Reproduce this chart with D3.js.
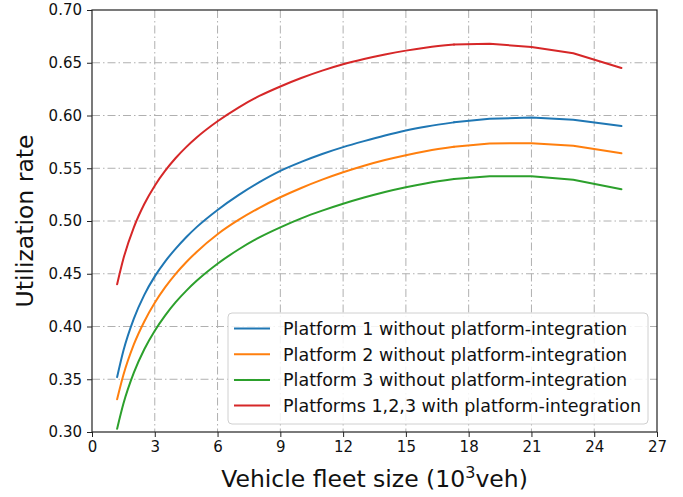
<!DOCTYPE html>
<html>
<head>
<meta charset="utf-8">
<script src="https://cdn.jsdelivr.net/npm/d3@7"></script>
<style>
  html, body { margin: 0; padding: 0; background: #fff; }
  svg { display: block; font-family: "DejaVu Sans", sans-serif; }
</style>
</head>
<body>
<svg id="chart" width="683" height="497"></svg>
<script>
// ---- data ----
const fleetSize = [1.2, 1.5, 2, 2.5, 3, 3.5, 4, 4.5, 5, 6, 7, 8, 9, 10, 11, 12, 13, 14, 15, 16, 17.3, 19, 21, 23, 25.3];
const platform1 = [0.352, 0.377, 0.4075, 0.430, 0.4475, 0.4618, 0.4738, 0.4846, 0.4942, 0.5105, 0.5245, 0.5368, 0.5475, 0.556, 0.5635, 0.570, 0.5757, 0.581, 0.5857, 0.5895, 0.5935, 0.597, 0.598, 0.596, 0.590];
const platform2 = [0.331, 0.354, 0.383, 0.4048, 0.4225, 0.4373, 0.4499, 0.4609, 0.4707, 0.4875, 0.501, 0.5125, 0.5225, 0.5313, 0.5392, 0.5462, 0.5524, 0.5578, 0.5624, 0.5663, 0.5703, 0.5735, 0.5737, 0.5714, 0.5642];
const platform3 = [0.303, 0.3267, 0.3562, 0.3784, 0.396, 0.4106, 0.4231, 0.4338, 0.4433, 0.4595, 0.473, 0.4845, 0.494, 0.5025, 0.5098, 0.5163, 0.5222, 0.5275, 0.532, 0.5358, 0.5398, 0.5425, 0.5425, 0.539, 0.530];
const integrated = [0.440, 0.4642, 0.494, 0.5161, 0.5335, 0.5477, 0.5597, 0.570, 0.5791, 0.5945, 0.6075, 0.6185, 0.6275, 0.6355, 0.6425, 0.6485, 0.6535, 0.6578, 0.6615, 0.6645, 0.6672, 0.668, 0.665, 0.659, 0.645];
const seriesLabels = [
  "Platform 1 without platform-integration",
  "Platform 2 without platform-integration",
  "Platform 3 without platform-integration",
  "Platforms 1,2,3 with platform-integration"
];
const xTicks = [0, 3, 6, 9, 12, 15, 18, 21, 24, 27];
const yTicks = [0.30, 0.35, 0.40, 0.45, 0.50, 0.55, 0.60, 0.65, 0.70];
const xLabel = "Vehicle fleet size (10";
const xLabelSup = "3";
const xLabelEnd = "veh)";
const yLabel = "Utilization rate";

// ---- styles ----
const seriesColors = ["#1f77b4", "#ff7f0e", "#2ca02c", "#d62728"];
const smoothUntil = 20; // index where the sampled curve becomes piecewise linear

const svg = d3.select("#chart");
const L = 92, R = 657, T = 10, B = 432;
const x = d3.scaleLinear().domain([0, 27]).range([L, R]);
const y = d3.scaleLinear().domain([0.3, 0.7]).range([B, T]);

// grid
const grid = svg.append("g");
grid.selectAll("line.gx").data(xTicks.slice(1, -1)).enter().append("line")
  .attr("x1", d => x(d)).attr("x2", d => x(d)).attr("y1", T).attr("y2", B)
  .attr("stroke", "#b0b0b0").attr("stroke-width", 1).attr("stroke-dasharray", "8,3,1.5,3");
grid.selectAll("line.gy").data(yTicks.slice(1, -1)).enter().append("line")
  .attr("y1", d => y(d)).attr("y2", d => y(d)).attr("x1", L).attr("x2", R)
  .attr("stroke", "#b0b0b0").attr("stroke-width", 1).attr("stroke-dasharray", "8,3,1.5,3");

// lines
const allSeries = [platform1, platform2, platform3, integrated];
const smoothLine = d3.line().x(d => x(d[0])).y(d => y(d[1])).curve(d3.curveMonotoneX);
const straightLine = d3.line().x(d => x(d[0])).y(d => y(d[1]));
allSeries.forEach((vals, i) => {
  const pts = fleetSize.map((f, j) => [f, vals[j]]);
  const g = svg.append("g").attr("fill", "none").attr("stroke", seriesColors[i])
    .attr("stroke-width", 2).attr("stroke-linejoin", "round").attr("stroke-linecap", "round");
  g.append("path").datum(pts.slice(0, smoothUntil + 1)).attr("d", smoothLine);
  g.append("path").datum(pts.slice(smoothUntil)).attr("d", straightLine);
});

// axes
const xAxis = svg.append("g").attr("transform", `translate(0,${B})`)
  .call(d3.axisBottom(x).tickValues(xTicks).tickFormat(d3.format("d")).tickSize(5).tickPadding(4).tickSizeOuter(0));
const yAxis = svg.append("g").attr("transform", `translate(${L},0)`)
  .call(d3.axisLeft(y).tickValues(yTicks).tickFormat(d3.format(".2f")).tickSize(5).tickPadding(5).tickSizeOuter(0));
[xAxis, yAxis].forEach(a => {
  a.select(".domain").remove();
  a.selectAll("line").attr("stroke", "#222").attr("stroke-width", 1);
  a.selectAll("text").attr("font-family", "DejaVu Sans").attr("font-size", 15).attr("fill", "#111");
});

// frame
svg.append("rect").attr("x", L).attr("y", T).attr("width", R - L).attr("height", B - T)
  .attr("fill", "none").attr("stroke", "#222").attr("stroke-width", 1.2);

// axis labels
const xl = svg.append("text").attr("x", (L + R) / 2).attr("y", 487).attr("text-anchor", "middle")
  .attr("font-size", 23.5).attr("fill", "#111");
xl.append("tspan").text(xLabel);
xl.append("tspan").attr("dy", -9).attr("font-size", 16).text(xLabelSup);
xl.append("tspan").attr("dy", 9).text(xLabelEnd);

svg.append("text").attr("transform", `translate(33,${(T + B) / 2}) rotate(-90)`)
  .attr("text-anchor", "middle").attr("font-size", 23.5).attr("fill", "#111").text(yLabel);

// legend
const lg = svg.append("g");
lg.append("rect").attr("x", 228).attr("y", 313).attr("width", 420).attr("height", 111)
  .attr("rx", 4).attr("fill", "#fff").attr("fill-opacity", 0.85)
  .attr("stroke", "#d0d0d0").attr("stroke-width", 1);
seriesLabels.forEach((lab, i) => {
  const cy = 328.5 + i * 25.7;
  lg.append("line").attr("x1", 234).attr("x2", 270).attr("y1", cy).attr("y2", cy)
    .attr("stroke", seriesColors[i]).attr("stroke-width", 2);
  lg.append("text").attr("x", 283).attr("y", cy + 6.5).attr("font-size", 17.5).attr("fill", "#111").text(lab);
});
</script>
</body>
</html>
